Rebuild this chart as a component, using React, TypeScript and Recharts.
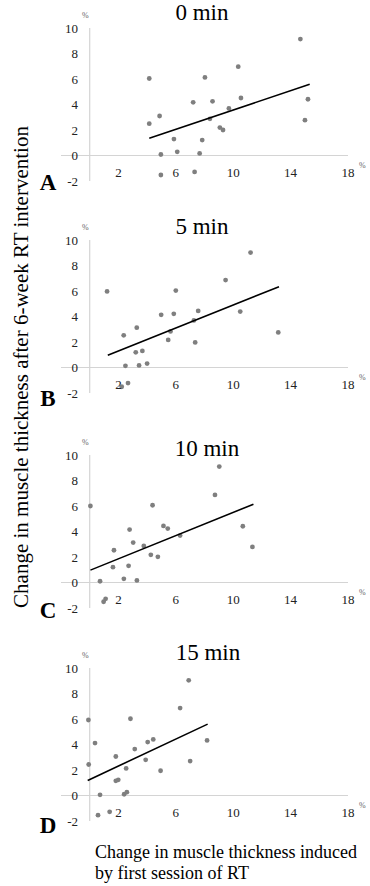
import React from 'react';
import { ScatterChart, Scatter, XAxis, YAxis, ReferenceLine } from 'recharts';

const xTicks = [2, 6, 10, 14, 18];
const yTicks = [-2, 0, 2, 4, 6, 8, 10];
const titles = ['0 min', '5 min', '10 min', '15 min'];
const letters = ['A', 'B', 'C', 'D'];

// 0 min
const xA = [4.15, 4.15, 4.87, 4.96, 4.96, 5.87, 6.1, 7.21, 7.31, 7.66, 7.84, 8.03, 8.38, 8.56, 9.07, 9.29, 9.7, 10.35, 10.54, 14.68, 15.0, 15.21];
const yA = [6.04, 2.5, 3.1, 0.08, -1.53, 1.29, 0.29, 4.17, -1.29, 0.16, 1.21, 6.12, 2.88, 4.25, 2.19, 2.0, 3.69, 6.97, 4.51, 9.13, 2.77, 4.41];
const trendXA = [4.15, 15.33];
const trendYA = [1.35, 5.59];

// 5 min
const xB = [1.21, 2.37, 2.49, 2.23, 2.67, 3.21, 3.28, 3.44, 3.67, 4.0, 4.98, 5.47, 5.63, 5.86, 6.0, 7.26, 7.35, 7.56, 9.47, 10.49, 11.21, 13.14];
const yB = [5.97, 2.52, 0.13, -1.51, -1.22, 1.19, 3.12, 0.16, 1.3, 0.31, 4.13, 2.16, 2.83, 4.21, 6.03, 3.69, 1.97, 4.44, 6.86, 4.39, 9.01, 2.75];
const trendXB = [1.26, 13.19];
const trendYB = [0.96, 6.34];

// 10 min
const xC = [0.05, 0.72, 1.11, 0.97, 1.62, 1.69, 2.38, 2.71, 2.78, 3.03, 3.29, 3.77, 4.26, 4.38, 4.75, 5.14, 5.44, 6.3, 8.73, 9.03, 10.67, 11.34];
const yC = [6.0, 0.1, -1.28, -1.51, 1.2, 2.53, 0.29, 1.31, 4.15, 3.13, 0.16, 2.87, 2.17, 6.06, 2.01, 4.44, 4.23, 3.68, 6.87, 9.09, 4.41, 2.79];
const trendXC = [0.05, 11.41];
const trendYC = [0.97, 6.14];

// 15 min
const xD = [-0.09, -0.07, 0.37, 0.58, 0.72, 1.39, 1.82, 1.82, 1.99, 2.4, 2.59, 2.54, 2.84, 3.14, 3.9, 4.04, 4.43, 4.94, 6.3, 6.9, 7.0, 8.18];
const yD = [5.92, 2.43, 4.11, -1.54, 0.05, -1.28, 3.06, 1.15, 1.23, 0.1, 0.26, 2.12, 6.02, 3.64, 2.8, 4.19, 4.4, 1.94, 6.86, 9.03, 2.7, 4.32];
const trendXD = [-0.14, 8.22];
const trendYD = [1.18, 5.6];

const SERIF = "'Liberation Serif', 'Times New Roman', Times, serif";
const Y_AXIS_W = 20;
const X_AXIS_H = 10;
const MARGIN = { top: 20, right: 22, bottom: 2, left: 61 - Y_AXIS_W };
const PLOT_H = 153;
const CHART_W = 370;
const CHART_H = MARGIN.top + PLOT_H + X_AXIS_H + MARGIN.bottom;

// layout of each panel (top of plot area, title placement, panel letter)
const plotTops = [27.5, 240, 455, 668];
const titleY = [12.5, 226.5, 449, 653];
const titleX = [202, 202, 207, 208];
const letterY = [183, 399, 611, 826];

const zip = (xs: number[], ys: number[]) => xs.map((x, i) => ({ x, y: ys[i] }));

const tickStyle = { fontFamily: SERIF, fontSize: 13, fill: '#222' };

const XTick = (props: any) => {
  const { x, y, payload } = props;
  return (
    <text x={x} y={y - 4} textAnchor="middle" style={tickStyle}>
      {payload.value}
    </text>
  );
};

const YTick = (props: any) => {
  const { x, y, payload } = props;
  return (
    <text x={x + 17} y={y + 4.5} textAnchor="end" style={tickStyle}>
      {payload.value}
    </text>
  );
};

const Dot = (props: any) => <circle cx={props.cx} cy={props.cy} r={2.4} fill="#7f7f7f" />;

interface PanelProps {
  idx: number;
  xs: number[];
  ys: number[];
  tx: number[];
  ty: number[];
}

function Panel({ idx, xs, ys, tx, ty }: PanelProps) {
  const top = plotTops[idx] - MARGIN.top;
  return (
    <div style={{ position: 'absolute', left: 0, top, width: CHART_W, height: CHART_H }}>
      <ScatterChart width={CHART_W} height={CHART_H} margin={MARGIN}>
        <XAxis
          type="number"
          dataKey="x"
          domain={[-2, 18]}
          ticks={xTicks}
          interval={0}
          axisLine={false}
          tickLine={false}
          tickSize={0}
          tickMargin={0}
          height={X_AXIS_H}
          tick={<XTick />}
          allowDataOverflow
        />
        <YAxis
          type="number"
          dataKey="y"
          domain={[-2, 10]}
          ticks={yTicks}
          interval={0}
          axisLine={false}
          tickLine={false}
          tickSize={0}
          tickMargin={0}
          width={Y_AXIS_W}
          tick={<YTick />}
          allowDataOverflow
        />
        <ReferenceLine y={0} stroke="#d4d4d4" strokeWidth={1.2} />
        <ReferenceLine x={0} stroke="#d4d4d4" strokeWidth={1.2} />
        <Scatter data={zip(xs, ys)} shape={Dot} isAnimationActive={false} />
        <Scatter
          data={zip(tx, ty)}
          shape={() => <g />}
          line={{ stroke: '#000', strokeWidth: 1.6 }}
          isAnimationActive={false}
        />
      </ScatterChart>
    </div>
  );
}

const pct: React.CSSProperties = {
  position: 'absolute',
  fontSize: 8,
  color: '#666',
  fontFamily: SERIF,
  lineHeight: '8px',
};

export default function App() {
  const panels = [
    { xs: xA, ys: yA, tx: trendXA, ty: trendYA },
    { xs: xB, ys: yB, tx: trendXB, ty: trendYB },
    { xs: xC, ys: yC, tx: trendXC, ty: trendYC },
    { xs: xD, ys: yD, tx: trendXD, ty: trendYD },
  ];
  return (
    <div style={{ position: 'absolute', left: 0, top: 0, width: 370, height: 886, background: '#fff', fontFamily: SERIF }}>
      {panels.map((p, i) => (
        <React.Fragment key={i}>
          <Panel idx={i} {...p} />
          <div
            style={{
              position: 'absolute',
              left: titleX[i] - 60,
              width: 120,
              top: titleY[i] - 13,
              lineHeight: '26px',
              textAlign: 'center',
              fontSize: 23,
              color: '#000',
            }}
          >
            {titles[i]}
          </div>
          <div
            style={{
              position: 'absolute',
              left: 36,
              width: 24,
              top: letterY[i] - 13,
              lineHeight: '26px',
              textAlign: 'center',
              fontSize: 23,
              fontWeight: 'bold',
              color: '#000',
            }}
          >
            {letters[i]}
          </div>
          <div style={{ ...pct, left: 82, top: plotTops[i] - 16 }}>%</div>
          <div style={{ ...pct, left: 359, top: plotTops[i] + 134 }}>%</div>
        </React.Fragment>
      ))}
      <svg width={40} height={886} style={{ position: 'absolute', left: 0, top: 0 }}>
        <text
          x={28}
          y={367}
          transform="rotate(-90 28 367)"
          textAnchor="middle"
          fontSize={21}
          fontFamily={SERIF}
          fill="#000"
        >
          Change in muscle thickness after 6-week RT intervention
        </text>
      </svg>
      <div
        style={{
          position: 'absolute',
          left: 95,
          top: 842,
          fontSize: 18,
          lineHeight: '21px',
          color: '#000',
          whiteSpace: 'nowrap',
        }}
      >
        Change in muscle thickness induced
        <br />
        by first session of RT
      </div>
    </div>
  );
}
